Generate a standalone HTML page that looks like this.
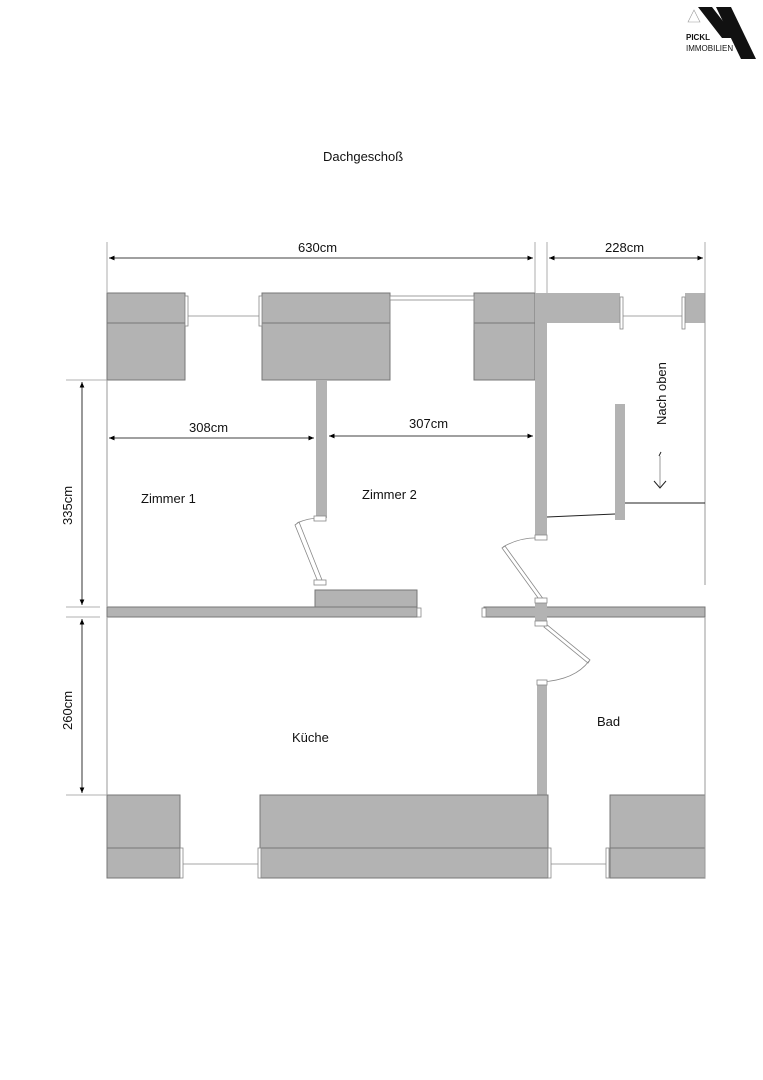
<!DOCTYPE html>
<html><head><meta charset="utf-8"><style>body{margin:0;background:#fff}svg{display:block}text{font-family:"Liberation Sans",sans-serif;font-size:13px;fill:#111}</style></head>
<body>
<svg width="763" height="1080" viewBox="0 0 763 1080" xmlns="http://www.w3.org/2000/svg">
<defs><marker id="a" markerWidth="8" markerHeight="8" refX="7" refY="4" orient="auto-start-reverse"><path d="M0,1 L7,4 L0,7" fill="#000"/></marker></defs>
<!-- logo -->
<polygon points="698,7 712,7 736,38 722,38" fill="#111"/>
<polygon points="716,7 731,7 756,59 741,59" fill="#111"/>
<polygon points="688,22 694,10 700,22" fill="none" stroke="#999" stroke-width="0.6"/>
<text x="686" y="40" style="font-size:8px;font-weight:bold">PICKL</text>
<text x="686" y="51" style="font-size:8px">IMMOBILIEN</text>
<text x="323" y="161">Dachgeschoß</text>
<g fill="#b3b3b3" stroke="#777" stroke-width="1">
<rect x="107" y="293" width="78" height="30"/><rect x="107" y="323" width="78" height="57"/>
<rect x="262" y="293" width="128" height="30"/><rect x="262" y="323" width="128" height="57"/>
<rect x="474" y="293" width="61" height="30"/><rect x="474" y="323" width="61" height="57"/>
<rect x="535" y="293" width="85" height="30" stroke="none"/><rect x="685" y="293" width="20" height="30" stroke="none"/>
<rect x="535" y="293" width="12" height="242" stroke="none"/>
<rect x="316" y="380" width="11" height="138" stroke="none"/>
<rect x="615" y="404" width="10" height="116" stroke="none"/>
<rect x="315" y="590" width="102" height="17"/>
<rect x="107" y="607" width="310" height="10"/>
<rect x="484" y="607" width="221" height="10"/>
<rect x="535" y="598" width="12" height="27" stroke="none"/>
<rect x="537" y="680" width="10" height="120" stroke="none"/>
<rect x="107" y="795" width="73" height="53"/><rect x="107" y="848" width="73" height="30"/>
<rect x="260" y="795" width="288" height="53"/><rect x="260" y="848" width="288" height="30"/>
<rect x="610" y="795" width="95" height="53"/><rect x="610" y="848" width="95" height="30"/>
</g>
<g fill="#fff" stroke="#888" stroke-width="0.8">
<rect x="185" y="296" width="3" height="30"/><rect x="259" y="296" width="3" height="30"/>
<line x1="188" y1="316" x2="259" y2="316"/>
<rect x="620" y="297" width="3" height="32"/><rect x="682" y="297" width="3" height="32"/>
<line x1="623" y1="316" x2="682" y2="316"/>
<rect x="390" y="296" width="84" height="4"/><line x1="390" y1="300" x2="390" y2="330"/><line x1="474" y1="300" x2="474" y2="330"/>
<rect x="180" y="848" width="3" height="30"/><rect x="258" y="848" width="3" height="30"/><line x1="183" y1="864" x2="258" y2="864"/>
<rect x="548" y="848" width="3" height="30"/><rect x="606" y="848" width="3" height="30"/><line x1="551" y1="864" x2="606" y2="864"/>
<rect x="417" y="608" width="4" height="9"/><rect x="482" y="608" width="4" height="9"/>
<polygon points="295,525 299,522 322,580 318,582"/><path d="M297,523 Q308,518 320,518" fill="none"/>
<rect x="314" y="516" width="12" height="5"/><rect x="314" y="580" width="12" height="5"/>
<polygon points="502,548 505,546 544,600 541,602"/><path d="M503,547 Q520,537 540,538" fill="none"/>
<rect x="535" y="535" width="12" height="5"/><rect x="535" y="598" width="12" height="5"/>
<polygon points="544,627 546,624 590,660 588,663"/><path d="M589,661 Q575,680 541,682" fill="none"/>
<rect x="535" y="621" width="12" height="5"/><rect x="537" y="680" width="10" height="5"/>
</g>
<g stroke="#999" stroke-width="1" fill="none">
<line x1="107" y1="380" x2="107" y2="607"/><line x1="107" y1="617" x2="107" y2="795"/>
<line x1="705" y1="293" x2="705" y2="585"/><line x1="705" y1="617" x2="705" y2="878"/>
<line x1="660" y1="456" x2="660" y2="488"/>
</g>
<g stroke="#222" stroke-width="1" fill="none">
<line x1="547" y1="517" x2="615" y2="514"/><line x1="625" y1="503" x2="705" y2="503"/>
<path d="M654,481 L660,488 L666,481"/><line x1="659" y1="456" x2="661" y2="452"/>
</g>
<g stroke="#000" stroke-width="0.8">
<line x1="107" y1="242" x2="107" y2="293" stroke="#999"/><line x1="535" y1="242" x2="535" y2="293" stroke="#999"/>
<line x1="547" y1="242" x2="547" y2="293" stroke="#999"/><line x1="705" y1="242" x2="705" y2="293" stroke="#999"/>
<line x1="109" y1="258" x2="533" y2="258" marker-start="url(#a)" marker-end="url(#a)"/>
<line x1="549" y1="258" x2="703" y2="258" marker-start="url(#a)" marker-end="url(#a)"/>
<line x1="109" y1="438" x2="314" y2="438" marker-start="url(#a)" marker-end="url(#a)"/>
<line x1="329" y1="436" x2="533" y2="436" marker-start="url(#a)" marker-end="url(#a)"/>
<line x1="66" y1="380" x2="107" y2="380" stroke="#999"/><line x1="66" y1="607" x2="100" y2="607" stroke="#999"/>
<line x1="66" y1="617" x2="100" y2="617" stroke="#999"/><line x1="66" y1="795" x2="107" y2="795" stroke="#999"/>
<line x1="82" y1="382" x2="82" y2="605" marker-start="url(#a)" marker-end="url(#a)"/>
<line x1="82" y1="619" x2="82" y2="793" marker-start="url(#a)" marker-end="url(#a)"/>
</g>
<text x="298" y="252">630cm</text><text x="605" y="252">228cm</text>
<text x="189" y="432">308cm</text><text x="409" y="428">307cm</text>
<text x="141" y="503">Zimmer 1</text><text x="362" y="499">Zimmer 2</text>
<text x="292" y="742">Küche</text><text x="597" y="726">Bad</text>
<text transform="translate(72,525) rotate(-90)">335cm</text>
<text transform="translate(72,730) rotate(-90)">260cm</text>
<text transform="translate(666,425) rotate(-90)">Nach oben</text>
</svg>
</body></html>
